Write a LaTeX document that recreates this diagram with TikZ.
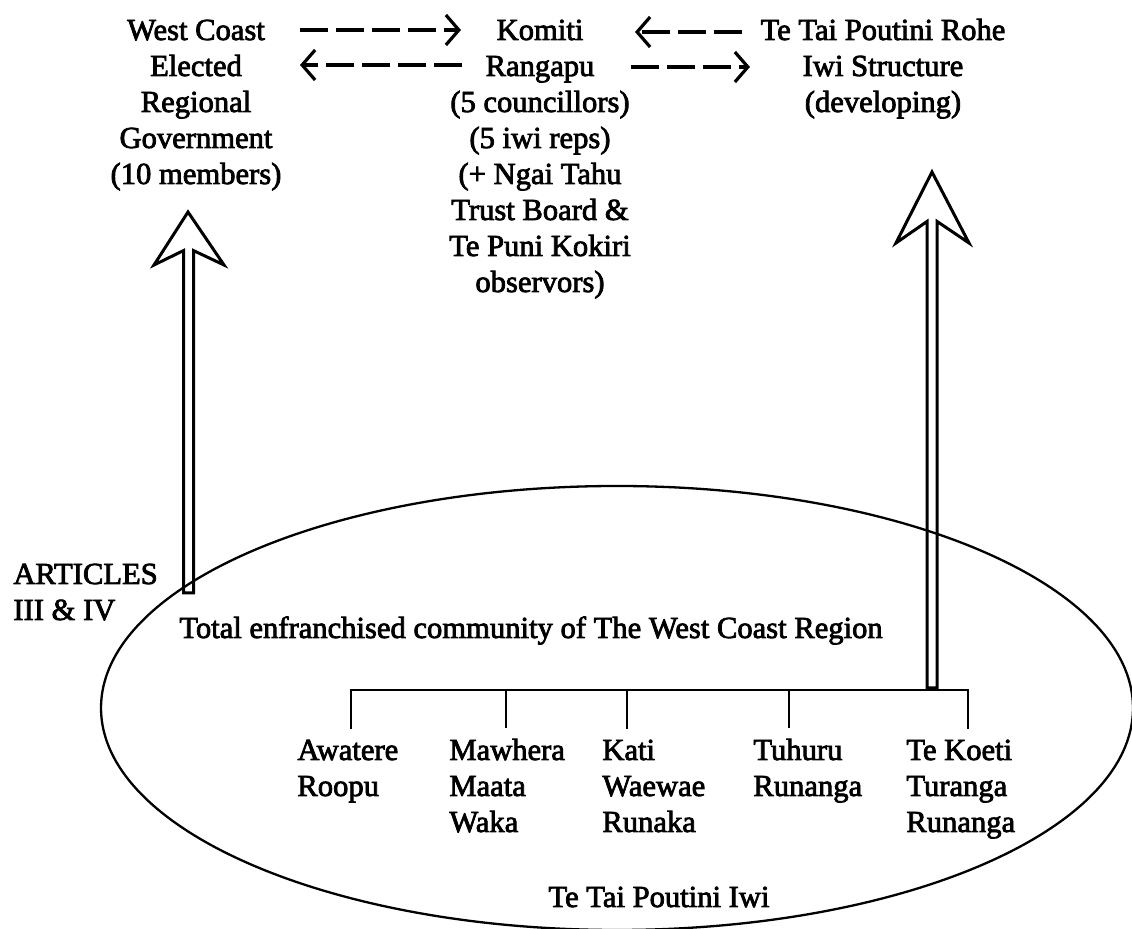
\documentclass[tikz,border=0pt]{standalone}
\usepackage{fontspec}
\setmainfont{Liberation Serif}[BoldFont={Liberation Serif}, BoldFeatures={FakeBold=2.5}]
\usetikzlibrary{arrows.meta,shapes.geometric}
\begin{document}
\begin{tikzpicture}[x=0.5pt,y=-0.5pt,
  txt/.style={font=\fontsize{15.3}{18}\selectfont\bfseries, inner sep=0pt, align=center, anchor=base},
  lbl/.style={font=\fontsize{15.3}{18}\selectfont\bfseries, inner xsep=0pt, inner ysep=5pt, align=left, anchor=base west},
  dasharrow/.style={line width=1.6pt, dash pattern=on 14pt off 4pt,
    -{Straight Barb[length=6.5pt,width=15pt]}},
  hollow/.style={line width=1.5pt, line join=miter},
  tree/.style={line width=1pt},
  region/.style={draw, ellipse, line width=1.15pt, minimum width=516pt, minimum height=222pt, inner sep=0pt}
]
\useasboundingbox (0,0) rectangle (1132,929);

% community ellipse
\node[region] (comm) at (617,708) {};

% top text blocks (anchor = baseline of last line)
\node[txt] (wc) at (196,184) {West Coast\\Elected\\Regional\\Government\\(10 members)};
\node[txt] (kr) at (540,292) {Komiti\\Rangapu\\(5 councillors)\\(5 iwi reps)\\(+ Ngai Tahu\\Trust Board \&\\Te Puni Kokiri\\observors)};
\node[txt] (iwi) at (883,112) {Te Tai Poutini Rohe\\Iwi Structure\\(developing)};

% dashed arrows
\coordinate (d1s) at (300,30);  \coordinate (d1e) at (461,30);
\coordinate (d2s) at (462,65);  \coordinate (d2e) at (300,65);
\coordinate (d3s) at (742,32);  \coordinate (d3e) at (635,32);
\coordinate (d4s) at (631,67);  \coordinate (d4e) at (750,67);
\draw[dasharrow] (d1s) -- (d1e);
\draw[dasharrow] (d2s) -- (d2e);
\draw[dasharrow] (d3s) -- (d3e);
\draw[dasharrow] (d4s) -- (d4e);

% side label
\node[txt, align=left, anchor=base west] (art) at (13,620) {ARTICLES\\III \& IV};

% texts inside the ellipse
\node[txt] (tot) at (531,638) {Total enfranchised community of The West Coast Region};
\node[txt] (ttpi) at (659,907) {Te Tai Poutini Iwi};

\node[lbl] (aw) at (297,796) {Awatere\\Roopu};
\node[lbl] (mw) at (449,832) {Mawhera\\Maata\\Waka};
\node[lbl] (kw) at (602,832) {Kati\\Waewae\\Runaka};
\node[lbl] (tr) at (753,796) {Tuhuru\\Runanga};
\node[lbl] (tk) at (906,832) {Te Koeti\\Turanga\\Runanga};

% branch structure
\coordinate (bl) at (351,690);
\coordinate (br) at (968,690);
\draw[tree] (bl |- aw.north) -- (bl) -- (br) -- (br |- tk.north);
\draw[tree] (506,690) -- (506,0 |- mw.north);
\draw[tree] (627,690) -- (627,0 |- kw.north);
\draw[tree] (789,690) -- (789,0 |- tr.north);

% hollow arrows
\draw[hollow] (188,212) -- (224,265) -- (193.5,250.6) -- (193.5,593)
  -- (183.5,593) -- (183.5,250.6) -- (154,265) -- cycle;
\draw[hollow] (932,172) -- (969,243) -- (937,221.4) -- (937,688)
  -- (927,688) -- (927,221.5) -- (896,243) -- cycle;
\end{tikzpicture}
\end{document}
